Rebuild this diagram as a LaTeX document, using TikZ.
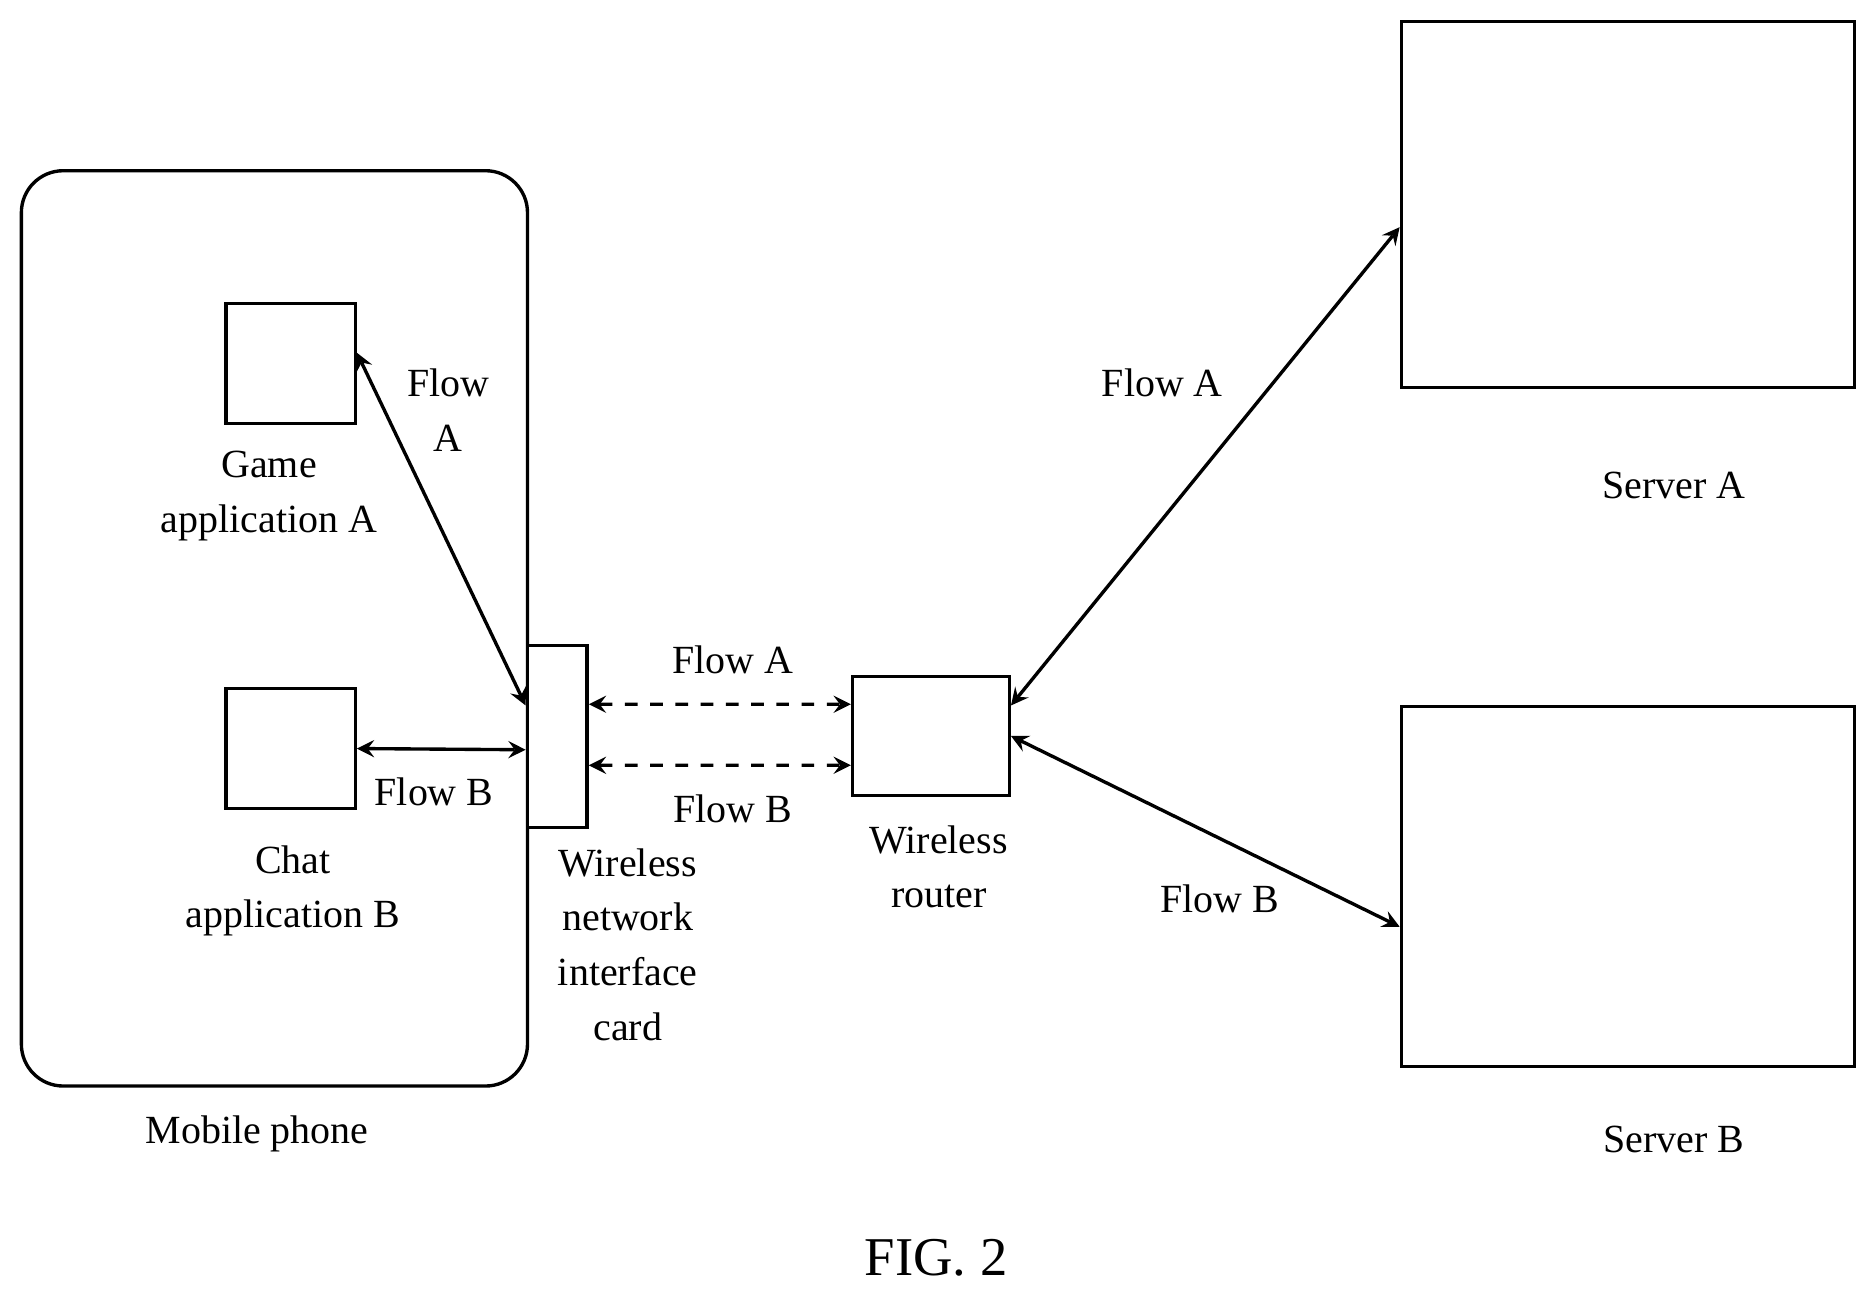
\documentclass[tikz,border=0pt]{standalone}
\usepackage{fontspec}
\setmainfont{Liberation Serif}
\usetikzlibrary{arrows, positioning}
\tikzset{>=stealth}

\begin{document}
\begin{tikzpicture}[x=0.01cm, y=-0.01cm, font=\fontsize{9.5}{13}\selectfont,
  box/.style={draw, thick, inner sep=0pt},
  lbl/.style={align=center, inner sep=0pt}]
\useasboundingbox (0,0) rectangle (1568,1086);

\node[box, rounded corners=0.35cm, minimum width=4.23cm, minimum height=7.65cm] (phone) at (229.5,525.5) {};
\node[lbl] (phonelbl) at (215,948) {Mobile phone};

\node[box, minimum width=1.08cm, minimum height=1cm] (game) at (243,304) {};
\node[lbl] (gamelbl) at (225,415) {Game\\application A};
\node[box, minimum width=1.08cm, minimum height=1cm] (chat) at (243,626) {};
\node[lbl] (chatlbl) at (245,745) {Chat\\application B};

\node[box, fill=white, minimum width=0.5cm, minimum height=1.52cm] (nic) at (466,616) {};
\node[lbl] (niclbl) at (525,790) {Wireless\\network\\interface\\card};

\node[box, minimum width=1.31cm, minimum height=0.99cm] (router) at (778.5,615.5) {};
\node[lbl] (routerlbl) at (785,725) {Wireless\\router};

\node[box, minimum width=3.79cm, minimum height=3.06cm] (srva) at (1361.5,171) {};
\node[lbl] (srvalbl) at (1400,406) {Server A};
\node[box, minimum width=3.79cm, minimum height=3.01cm] (srvb) at (1361.5,741.5) {};
\node[lbl] (srvblbl) at (1400,953) {Server B};

\draw[<->, thick] ([yshift=0.09cm]game.east) -- ([yshift=0.26cm]nic.west);
\node[lbl] (fa1) at (375,343) {Flow\\A};
\draw[<->, thick] (chat.east) -- ([yshift=-0.11cm]nic.west);
\node[lbl] (fb1) at (363,662) {Flow B};

\draw[<->, thick, dashed] ([yshift=0.27cm]nic.east) -- ([yshift=0.265cm]router.west);
\node[lbl] (fa2) at (613,552) {Flow A};
\draw[<->, thick, dashed] ([yshift=-0.24cm]nic.east) -- ([yshift=-0.245cm]router.west);
\node[lbl] (fb2) at (613,676) {Flow B};

\draw[<->, thick] ([yshift=0.255cm]router.east) -- ([yshift=-0.19cm]srva.west);
\node[lbl] (fa3) at (972,320) {Flow A};
\draw[<->, thick] (router.east) -- ([yshift=-0.335cm]srvb.west);
\node[lbl] (fb3) at (1020,752) {Flow B};

\node[lbl, font=\fontsize{13}{15}\selectfont] (fig) at (783,1052) {FIG. 2};
\end{tikzpicture}
\end{document}
